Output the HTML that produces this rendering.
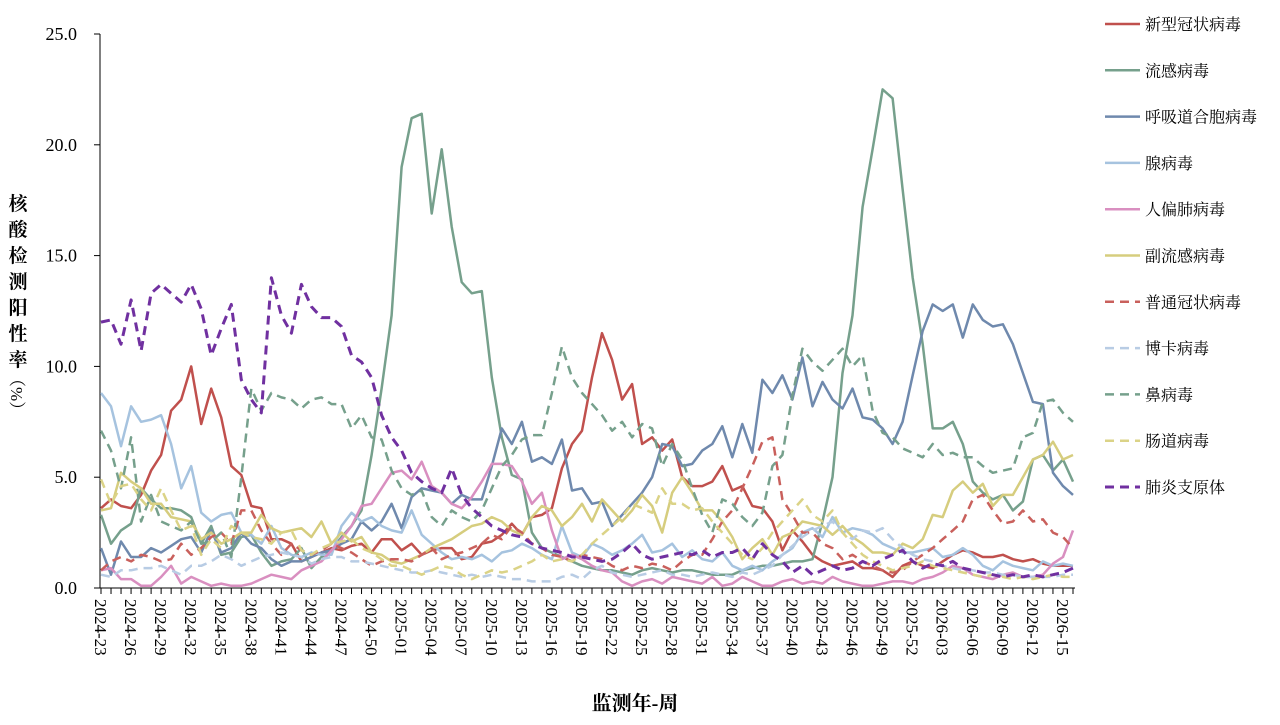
<!DOCTYPE html>
<html><head><meta charset="utf-8"><style>
body{margin:0;background:#fff;width:1280px;height:720px;overflow:hidden}
svg text{font-family:"Liberation Serif","Noto Serif CJK SC",serif}
</style></head><body>
<svg id="s" width="1280" height="720" xmlns="http://www.w3.org/2000/svg"></svg>
<script>
const S=document.getElementById('s');let h='';
const X0=101,X1=1073,Y0=588,K=22.16;
const y=v=>Y0-v*K;
h+=`<line x1="100" y1="34" x2="100" y2="588" stroke="#000" stroke-width="1"/>`;
h+=`<line x1="94" y1="588" x2="1075" y2="588" stroke="#000" stroke-width="1"/>`;
for(let v=0;v<=25;v+=5){const yy=y(v);h+=`<line x1="94" y1="${yy}" x2="100" y2="${yy}" stroke="#000"/><text x="77" y="${yy+6}" font-size="18" text-anchor="end">${v.toFixed(1)}</text>`;}
const labs=["2024-23","2024-26","2024-29","2024-32","2024-35","2024-38","2024-41","2024-44","2024-47","2024-50","2025-01","2025-04","2025-07","2025-10","2025-13","2025-16","2025-19","2025-22","2025-25","2025-28","2025-31","2025-34","2025-37","2025-40","2025-43","2025-46","2025-49","2025-52","2026-03","2026-06","2026-09","2026-12","2026-15"];
const st=(X1-X0)/97;
for(let i=0;i<=97;i++){const xx=X0+i*st;h+=`<line x1="${xx}" y1="588" x2="${xx}" y2="594" stroke="#000"/>`;}
labs.forEach((l,k)=>{const xx=X0+k*3*st;h+=`<text transform="translate(${xx-6},599) rotate(90)" font-size="17">${l}</text>`;});
const yt="核酸检测阳性率";for(let i=0;i<yt.length;i++)h+=`<text x="18" y="${210+i*26}" font-size="19" text-anchor="middle" font-weight="bold">${yt[i]}</text>`;
h+=`<text transform="translate(11,370) rotate(90)" font-size="17">（%）</text>`;
h+=`<text x="635" y="710" font-size="20" text-anchor="middle" font-weight="bold">监测年-周</text>`;
const D=[
["新型冠状病毒","#c0504d",0,[3.6,4.0,3.7,3.6,4.2,5.3,6.0,8.0,8.5,10.0,7.4,9.0,7.7,5.5,5.1,3.7,3.6,2.2,2.2,2.0,1.2,1.4,1.6,1.8,1.7,1.9,2.0,1.6,2.2,2.2,1.7,2.0,1.5,1.7,1.8,1.8,1.3,1.4,2.0,2.1,2.4,2.9,2.4,3.2,3.3,3.6,5.4,6.5,7.1,9.5,11.5,10.3,8.5,9.2,6.5,6.8,6.2,6.7,5.0,4.6,4.6,4.8,5.5,4.4,4.6,3.7,3.6,3.0,1.7,2.6,2.1,1.5,1.2,1.0,1.1,1.2,0.9,0.9,0.8,0.5,1.0,1.2,1.0,0.9,1.2,1.5,1.7,1.6,1.4,1.4,1.5,1.3,1.2,1.3,1.1,1.0,1.0,1.0]],
["流感病毒","#76a08c",0,[3.3,2.0,2.6,2.9,4.5,4.0,3.6,3.6,3.5,3.2,2.0,2.8,1.5,1.6,2.3,2.4,1.6,1.0,1.2,1.3,1.8,0.9,1.4,1.7,2.3,2.8,3.5,6.0,9.0,12.3,19.0,21.2,21.4,16.9,19.8,16.3,13.8,13.3,13.4,9.5,6.8,5.1,4.9,2.5,1.8,1.6,1.4,1.2,1.0,0.9,0.8,0.8,0.7,0.6,0.8,0.9,0.8,0.7,0.8,0.8,0.7,0.6,0.6,0.6,0.8,0.9,1.0,1.0,1.1,1.2,1.2,1.3,3.0,5.0,9.7,12.3,17.2,19.8,22.5,22.1,18.0,14.0,11.0,7.2,7.2,7.5,6.5,4.8,4.3,4.0,4.2,3.5,3.9,5.8,6.0,5.3,5.8,4.8]],
["呼吸道合胞病毒","#6f89ad",0,[1.8,0.6,2.1,1.4,1.4,1.8,1.6,1.9,2.2,2.3,1.6,2.6,1.6,1.8,2.5,2.0,1.8,1.3,1.0,1.2,1.2,1.4,1.6,1.7,2.0,2.2,3.0,2.6,3.0,3.8,2.7,4.1,4.5,4.4,4.3,3.8,4.2,4.0,4.0,5.5,7.2,6.5,7.5,5.7,5.9,5.6,6.7,4.4,4.5,3.8,3.9,2.8,3.3,3.8,4.3,5.0,6.5,6.4,5.5,5.6,6.2,6.5,7.3,5.9,7.4,6.1,9.4,8.8,9.6,8.5,10.4,8.2,9.3,8.5,8.1,9.0,7.7,7.6,7.2,6.5,7.5,9.6,11.6,12.8,12.5,12.8,11.3,12.8,12.1,11.8,11.9,11.0,9.7,8.4,8.3,5.2,4.6,4.2]],
["腺病毒","#a6c3df",0,[8.8,8.2,6.4,8.2,7.5,7.6,7.8,6.5,4.5,5.5,3.4,3.0,3.3,3.4,2.5,2.4,2.0,2.8,1.8,1.5,1.4,1.6,1.5,1.5,2.8,3.4,3.0,3.2,2.8,2.6,2.5,3.5,2.4,2.0,1.6,1.3,1.4,1.3,1.5,1.2,1.6,1.7,2.0,1.8,1.5,1.3,2.8,1.6,1.4,2.0,1.8,1.5,1.7,2.0,2.4,1.6,1.7,2.0,1.4,1.7,1.3,1.2,1.6,1.0,0.8,1.0,0.8,1.2,1.5,1.8,2.5,2.7,2.3,3.2,2.5,2.7,2.6,2.4,2.0,1.8,1.6,1.6,1.7,1.8,1.4,1.5,1.8,1.5,1.0,0.8,1.2,1.0,0.9,0.8,1.2,1.0,1.1,1.0]],
["人偏肺病毒","#d98fc0",0,[0.8,0.9,0.4,0.4,0.1,0.1,0.5,1.0,0.2,0.5,0.3,0.1,0.2,0.1,0.1,0.2,0.4,0.6,0.5,0.4,0.8,1.0,1.2,1.7,2.2,2.8,3.7,3.8,4.5,5.2,5.3,4.9,5.7,4.6,4.3,3.8,3.6,4.1,4.8,5.6,5.6,5.5,4.8,3.8,4.3,2.6,1.3,1.5,1.3,1.0,0.8,0.7,0.3,0.1,0.3,0.4,0.2,0.5,0.4,0.3,0.2,0.5,0.1,0.2,0.5,0.3,0.1,0.1,0.3,0.4,0.2,0.3,0.2,0.5,0.3,0.2,0.1,0.1,0.2,0.3,0.3,0.2,0.4,0.5,0.7,1.0,0.9,0.6,0.5,0.4,0.6,0.7,0.5,0.5,0.6,1.1,1.4,2.6]],
["副流感病毒","#d6cd7e",0,[3.5,3.6,5.2,4.8,4.5,3.8,3.8,3.2,3.1,3.0,2.2,2.5,2.0,2.2,2.5,2.5,3.3,2.7,2.5,2.6,2.7,2.3,3.0,2.0,2.5,2.1,2.3,1.6,1.5,1.2,1.1,1.3,1.5,1.8,2.0,2.2,2.5,2.8,2.9,3.2,3.0,2.6,2.4,3.2,3.7,3.5,2.8,3.2,3.8,3.0,4.0,3.5,3.0,3.5,4.2,3.7,2.5,4.3,5.0,4.3,3.5,3.5,3.0,2.3,1.3,1.8,2.2,1.5,2.3,2.5,3.0,2.9,2.8,2.4,2.8,2.3,2.0,1.6,1.6,1.5,2.0,1.8,2.2,3.3,3.2,4.4,4.8,4.3,4.7,3.7,4.2,4.2,5.0,5.8,6.0,6.6,5.8,6.0]],
["普通冠状病毒","#c9605c",1,[0.8,1.2,1.4,1.2,1.5,1.4,1.2,1.3,2.0,1.5,1.8,2.3,2.5,2.0,3.5,3.5,2.6,2.0,1.5,2.0,1.7,1.5,1.7,2.0,1.8,1.6,1.3,1.0,1.2,1.3,1.3,1.2,1.5,1.8,1.3,1.5,1.6,1.8,2.0,2.4,2.2,2.8,2.5,2.0,1.8,1.5,1.4,1.2,1.5,1.4,1.3,1.0,0.8,1.0,0.9,1.1,1.0,0.8,1.2,1.5,1.5,2.2,3.0,3.5,4.5,5.5,6.6,6.8,4.0,3.3,2.5,2.5,2.0,1.8,1.3,1.5,1.2,1.0,0.8,0.7,0.8,1.2,1.5,1.8,2.2,2.6,3.0,4.0,4.2,3.5,2.9,3.0,3.5,3.0,3.1,2.5,2.3,1.8]],
["博卡病毒","#b8cce4",1,[0.6,0.5,0.8,0.8,0.9,0.9,1.0,0.8,0.6,1.0,1.0,1.2,1.5,1.3,1.0,1.2,1.4,1.5,1.6,1.5,1.4,1.1,1.3,1.4,1.4,1.2,1.2,1.1,1.0,0.9,0.8,0.7,0.7,0.8,0.7,0.6,0.5,0.6,0.5,0.6,0.5,0.4,0.4,0.3,0.3,0.3,0.5,0.6,0.4,0.8,1.0,0.7,0.6,0.5,0.6,0.7,0.8,0.6,0.6,0.5,0.6,0.7,0.6,0.5,0.7,0.6,0.8,1.0,1.5,1.9,2.3,2.6,2.8,3.0,2.5,2.2,2.6,2.5,2.7,2.2,1.8,1.5,1.3,1.2,1.0,0.9,0.8,0.8,0.7,0.7,0.6,0.6,0.5,0.5,0.5,0.5,0.6,0.6]],
["鼻病毒","#76a08c",1,[7.1,6.2,4.5,6.8,3.0,4.2,3.0,2.8,2.6,3.0,2.0,2.1,2.5,1.4,5.0,9.0,8.0,8.8,8.6,8.5,8.1,8.5,8.6,8.3,8.3,7.2,7.8,6.8,6.7,5.3,4.5,4.2,4.4,3.2,2.8,3.5,3.2,3.0,3.5,4.5,5.5,6.0,6.7,6.9,6.9,8.8,10.9,9.5,8.8,8.3,7.8,7.1,7.5,6.8,7.4,7.2,5.5,6.5,5.8,4.5,3.3,2.5,4.0,3.8,3.2,2.8,3.4,5.5,6.0,8.7,10.8,10.2,9.8,10.3,10.8,10.0,10.5,8.0,7.0,6.8,6.3,6.1,5.9,6.5,6.0,6.1,5.9,5.9,5.5,5.2,5.3,5.4,6.8,7.0,8.4,8.5,7.9,7.5]],
["肠道病毒","#dbd387",1,[4.9,3.8,4.6,4.7,4.0,3.5,4.5,3.5,2.6,2.8,1.5,2.2,1.8,2.8,2.5,2.3,2.2,2.0,2.5,2.6,1.7,1.5,1.8,2.0,2.1,2.2,1.8,1.6,1.3,1.0,1.0,0.8,0.6,0.8,1.0,0.9,0.6,0.4,0.6,0.8,0.7,0.8,1.0,1.2,1.5,1.2,1.3,1.2,1.5,2.0,2.4,2.8,3.2,3.8,3.6,3.4,4.5,3.8,3.8,3.5,3.6,3.0,2.5,2.0,1.5,1.3,1.8,2.5,3.0,3.5,4.0,3.3,3.0,3.5,2.5,2.0,1.5,1.2,1.0,0.8,0.9,1.0,1.2,1.0,0.9,0.8,0.7,0.6,0.5,0.6,0.5,0.4,0.5,0.4,0.5,0.6,0.5,0.5]],
["肺炎支原体","#7030a0",1,[12,12.1,11,13,10.7,13.3,13.7,13.3,12.9,13.7,12.6,10.5,11.7,12.8,9.4,8.5,7.9,14,12.3,11.5,13.7,12.7,12.2,12.2,11.8,10.5,10.2,9.5,7.8,6.8,6.2,5.2,4.8,4.5,4.3,5.4,4.2,3.6,3.2,2.8,2.6,2.4,2.3,2.0,1.8,1.7,1.6,1.4,1.4,1.3,1.2,1.3,1.6,2.0,1.5,1.3,1.4,1.5,1.6,1.5,1.7,1.4,1.6,1.6,1.8,1.3,2.0,1.5,1.2,0.7,1.0,0.6,0.8,1.0,0.8,0.9,1.2,1.0,1.3,1.5,1.7,1.2,0.9,1.1,1.0,1.2,0.9,0.8,0.7,0.6,0.5,0.6,0.5,0.6,0.5,0.6,0.7,0.9]]
];
D.forEach(([n,c,d,a],k)=>{const s=(X1-X0)/(a.length-1);
 const p=a.map((v,i)=>(X0+i*s).toFixed(1)+','+y(v).toFixed(1)).join(' ');
 const w=d?(k==10?3:2.5):2.5;
 h+=`<polyline points="${p}" fill="none" stroke="${c}" stroke-width="${w}" ${d?'stroke-dasharray="9,6"':''} stroke-linejoin="round"/>`;
 const ly=24+k*46.3;
 h+=`<line x1="1105" y1="${ly}" x2="1140" y2="${ly}" stroke="${c}" stroke-width="${w}" ${d?'stroke-dasharray="9,6"':''}/>`;
 h+=`<text x="1145" y="${ly+6}" font-size="16">${n}</text>`;
});
S.innerHTML=h;
</script>
</body></html>
